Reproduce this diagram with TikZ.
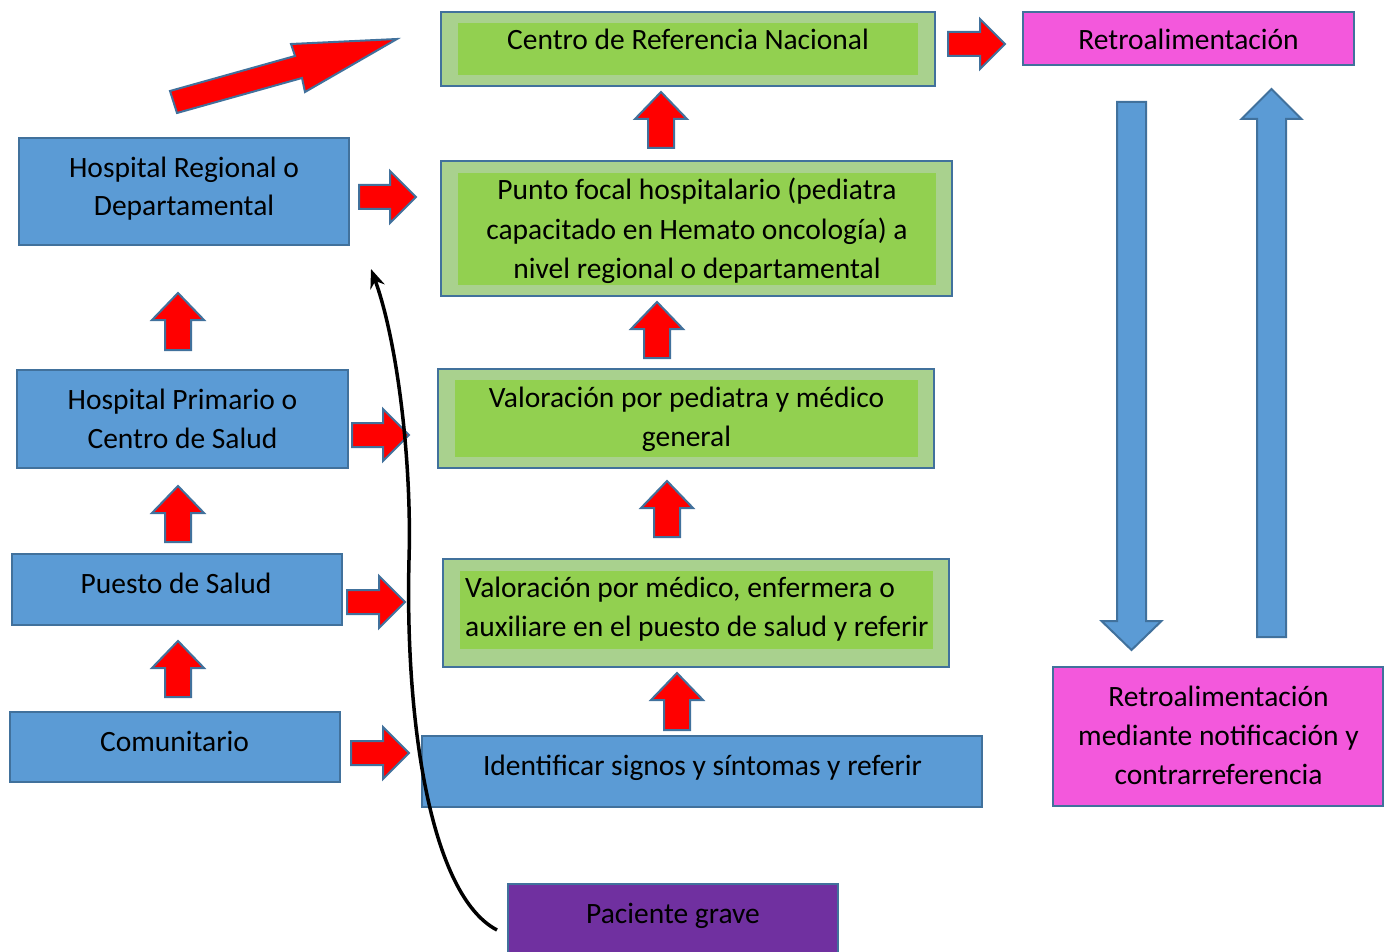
\documentclass[tikz,border=0pt]{standalone}
\usepackage{fontspec}
\setmainfont{Carlito}
\usetikzlibrary{arrows.meta}
\definecolor{boxblue}{RGB}{91,155,213}
\definecolor{bord}{RGB}{65,113,156}
\definecolor{lgreen}{RGB}{169,209,142}
\definecolor{dgreen}{RGB}{146,208,80}
\definecolor{magen}{RGB}{243,88,220}
\definecolor{purp}{RGB}{112,48,160}
\newcommand\st{\rule[-6pt]{0pt}{30pt}}
% up arrow: style, cx, tip, bottom, shaft half, head half, head length
\newcommand\arrU[7]{\draw[#1] (#2-#5,#4) -- (#2-#5,#3+#7) -- (#2-#6,#3+#7) -- (#2,#3) -- (#2+#6,#3+#7) -- (#2+#5,#3+#7) -- (#2+#5,#4) -- cycle;}
% down arrow: style, cx, tip, top, shaft half, head half, head length
\newcommand\arrD[7]{\draw[#1] (#2-#5,#4) -- (#2-#5,#3-#7) -- (#2-#6,#3-#7) -- (#2,#3) -- (#2+#6,#3-#7) -- (#2+#5,#3-#7) -- (#2+#5,#4) -- cycle;}
% right arrow: style, x0, cy, tip, shaft half, head half, head length
\newcommand\arrR[7]{\draw[#1] (#2,#3-#5) -- (#4-#7,#3-#5) -- (#4-#7,#3-#6) -- (#4,#3) -- (#4-#7,#3+#6) -- (#4-#7,#3+#5) -- (#2,#3+#5) -- cycle;}
\begin{document}
\begin{tikzpicture}[x=1pt,y=-1pt,
  shp/.style={draw=bord, line width=2pt, inner sep=0pt, outer sep=0pt},
  bluebox/.style={shp, fill=boxblue},
  outgreen/.style={shp, fill=lgreen},
  ingreen/.style={fill=dgreen, inner sep=0pt, outer sep=0pt},
  pinkbox/.style={shp, fill=magen},
  purpbox/.style={shp, fill=purp},
  txt/.style={font=\fontsize{29.5}{39}\selectfont, inner sep=0pt, align=center},
  redarr/.style={fill=red, draw=bord, line width=2pt, line join=miter},
  bluearr/.style={fill=boxblue, draw=bord, line width=2pt, line join=miter}]
\useasboundingbox (0,0) rectangle (1387,952);

% ---- boxes ----
\node[outgreen, minimum width=494pt, minimum height=74pt] (centroO) at (688,49) {};
\node[ingreen, minimum width=460pt, minimum height=52pt] (centroI) at (688,49) {};
\node[pinkbox, minimum width=331pt, minimum height=53pt] (retro) at (1188.5,38.5) {};
\node[outgreen, minimum width=511pt, minimum height=135pt] (puntoO) at (696.5,228.5) {};
\node[ingreen, minimum width=478pt, minimum height=112pt] (puntoI) at (697,229) {};
\node[outgreen, minimum width=496pt, minimum height=99pt] (valpedO) at (686,418.5) {};
\node[ingreen, minimum width=463pt, minimum height=77pt] (valpedI) at (686.5,418.5) {};
\node[outgreen, minimum width=506pt, minimum height=108pt] (valmedO) at (696,613) {};
\node[ingreen, minimum width=473pt, minimum height=78pt] (valmedI) at (696.5,610) {};
\node[bluebox, minimum width=560pt, minimum height=71pt] (ident) at (702,771.5) {};
\node[purpbox, minimum width=330pt, minimum height=76pt] (pac) at (673,922) {};
\node[bluebox, minimum width=330pt, minimum height=107pt] (hr) at (184,191.5) {};
\node[bluebox, minimum width=331pt, minimum height=98pt] (hp) at (182.5,419) {};
\node[bluebox, minimum width=330pt, minimum height=71pt] (ps) at (177,589.5) {};
\node[bluebox, minimum width=330pt, minimum height=70pt] (com) at (175,747) {};
\node[pinkbox, minimum width=330pt, minimum height=139pt] (retromed) at (1218,736.5) {};

% ---- texts ----
\node[txt] (tcentro) at (688,41) {\st Centro de Referencia Nacional};
\node[txt] (tretro) at (1188.5,41) {\st Retroalimentación};
\node[txt] (thr) at (184,187.5) {\st Hospital Regional o\\\st Departamental};
\node[txt] (tpunto) at (697,230) {\st Punto focal hospitalario (pediatra\\\st capacitado en Hemato oncología) a\\\st nivel regional o departamental};
\node[txt] (thp) at (182.5,419.5) {\st Hospital Primario o\\\st Centro de Salud};
\node[txt] (tvalped) at (686.5,417.5) {\st Valoración por pediatra y médico\\\st general};
\node[txt] (tps) at (176,584) {\st Puesto de Salud};
\node[txt, align=left, anchor=west] (tvalmed) at (465,608) {\st Valoración por médico, enfermera o\\\st auxiliare en el puesto de salud y referir};
\node[txt] (tcom) at (174.5,742) {\st Comunitario};
\node[txt] (tident) at (702.5,766) {\st Identificar signos y síntomas y referir};
\node[txt] (tretromed) at (1218.5,736) {\st Retroalimentación\\\st mediante notificación y\\\st contrarreferencia};
\node[txt] (tpac) at (673,914) {\st Paciente grave};

% ---- red block arrows ----
\arrU{redarr}{661}{92}{148}{13}{26}{27}
\arrU{redarr}{657}{302}{358}{13}{26}{27}
\arrU{redarr}{667}{481}{537}{13}{26}{27}
\arrU{redarr}{677}{673}{730}{13}{26}{27}
\arrU{redarr}{178}{293}{350}{13}{26}{27}
\arrU{redarr}{178}{486}{542}{13}{26}{27}
\arrU{redarr}{178}{641}{697}{13}{26}{27}
\arrR{redarr}{359}{197}{416}{12}{26}{26}
\arrR{redarr}{352}{435}{409}{12}{26}{26}
\arrR{redarr}{347}{602}{405}{12}{26}{26}
\arrR{redarr}{351}{753}{409}{12}{26}{26}
\arrR{redarr}{948}{44}{1005}{12}{25}{25}
\draw[redarr] (177,113) -- (170,91) -- (295,56) -- (291,44) -- (397,39) -- (305,92) -- (302,78) -- cycle;

% ---- blue block arrows ----
\arrD{bluearr}{1131.5}{650}{102}{14.5}{30}{29}
\arrU{bluearr}{1271.5}{89}{637}{14.5}{30}{30}

% ---- curved connector ----
\coordinate (cs) at (497,930);
\coordinate (ce) at (371,269);
\draw[line width=3.5pt, -{Stealth[length=19pt,width=15pt]}] (cs) .. controls (430,895) and (405,720) .. (409,560) .. controls (412,460) and (397,340) .. (ce);
\end{tikzpicture}
\end{document}
